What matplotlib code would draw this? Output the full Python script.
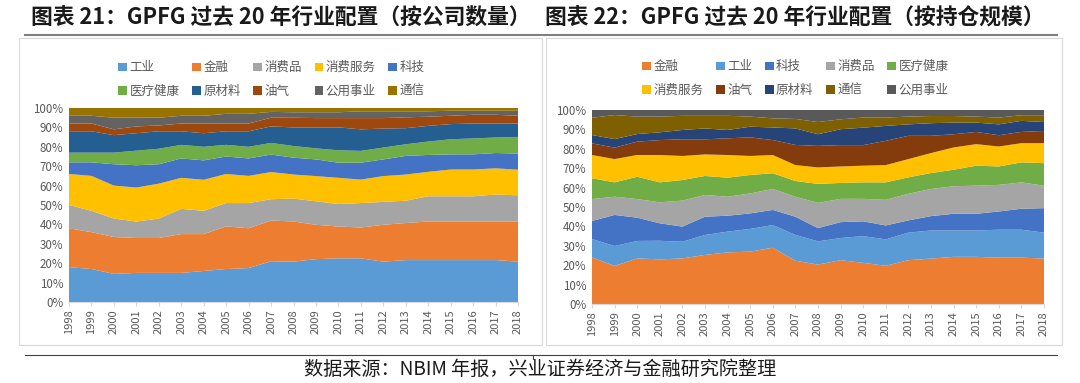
import numpy as np
import matplotlib
matplotlib.use('Agg')
import matplotlib.pyplot as plt
from matplotlib.patches import Rectangle
from matplotlib.lines import Line2D

plt.rcParams['font.family'] = ['Noto Sans CJK SC', 'DejaVu Sans']

years = list(range(1998, 2019))

# chart 21: share by number of companies (%), bottom to top
left_labels = ['工业', '金融', '消费品', '消费服务', '科技', '医疗健康', '原材料', '油气', '公用事业', '通信']
left_colors = ['#5B9BD5', '#ED7D31', '#A5A5A5', '#FFC000', '#4472C4', '#70AD47', '#255E91', '#9E480E', '#636363', '#997300']
gy_industry = [18, 17, 14.5, 15, 15, 15, 16, 17, 17.5, 21, 20.8, 22.1, 22.5, 22.5, 20.8, 21.6, 21.6, 21.6, 21.6, 21.6, 20.8]
gy_finance = [20, 19, 19, 18, 18, 20, 19, 22, 20.5, 21, 20.7, 17.7, 16.4, 15.9, 19, 19.1, 19.9, 19.9, 19.9, 19.9, 20.7]
gy_goods = [12, 11, 9.5, 8.5, 10, 13, 12, 12, 13, 11, 11.8, 12.1, 11.6, 12.6, 11.8, 11.5, 13, 13, 13, 13.9, 13.5]
gy_services = [16, 18, 17, 17.5, 18, 16, 16, 15, 14, 14, 12.4, 13, 13.5, 12.1, 13.3, 13.5, 12.6, 13.8, 13.8, 13.5, 13.2]
gy_tech = [6, 7, 11, 11.5, 10, 10, 10, 9, 9, 9, 8.7, 8.6, 7.8, 8.7, 8.6, 9.6, 8.7, 7.8, 7.8, 7.9, 8.3]
gy_health = [5, 5, 6, 7.5, 8, 7, 7, 6, 6, 6, 6, 5.7, 6.4, 6.1, 6.1, 6, 6.9, 7.8, 8.2, 8, 8.6]
gy_materials = [11, 11, 9, 9, 9, 7, 7, 7, 8, 8.5, 9.6, 10.8, 11.8, 11.1, 9.8, 8.3, 8.1, 7.8, 7.7, 7.2, 6.9]
gy_oil = [4, 4, 3, 3.5, 3, 4, 5, 4, 4, 4.5, 5, 4.8, 4.8, 5.8, 5.4, 5.6, 4.7, 4.3, 4.5, 4.5, 4]
gy_utilities = [4, 4, 6, 4.5, 4, 4, 4, 5, 5, 3, 2.8, 3, 3, 3.5, 3.5, 3.1, 2.8, 2.6, 2.1, 2.1, 2.6]
gy_telecom = [4, 4, 5, 5, 5, 4, 4, 3, 3, 2, 2.2, 2.2, 2.2, 1.7, 1.7, 1.7, 1.7, 1.4, 1.4, 1.4, 1.4]

# chart 22: share by holding size (%), bottom to top
right_labels = ['金融', '工业', '科技', '消费品', '医疗健康', '消费服务', '油气', '原材料', '通信', '公用事业']
right_colors = ['#ED7D31', '#5B9BD5', '#4472C4', '#A5A5A5', '#70AD47', '#FFC000', '#843C0C', '#264478', '#7F6000', '#595959']
hv_finance = [24, 19.6, 23.5, 23, 23.5, 25.3, 26.6, 27, 29, 22.3, 20.3, 22.6, 21.2, 19.7, 22.6, 23.4, 24.3, 24.3, 23.9, 23.9, 23.4]
hv_industry = [9.5, 10.3, 9, 9.6, 8.6, 10.3, 10.7, 11.7, 11.7, 13.3, 12, 11.4, 13.8, 13.6, 14.2, 14.5, 13.6, 13.6, 14.4, 14.4, 13.4]
hv_tech = [9.3, 16, 12, 9, 7.8, 9.4, 8.2, 8, 7.8, 9.4, 6.8, 8.2, 7.6, 7.2, 6.3, 7.4, 8.6, 8.6, 9.4, 10.8, 12.6]
hv_goods = [11.3, 9.4, 9.6, 10.8, 13.4, 11.2, 9.8, 10.3, 10.8, 10.3, 13, 12, 11.6, 13.2, 13.7, 14, 14.2, 14.5, 13.7, 13.6, 11.6]
hv_health = [10.7, 7.4, 11.5, 10.3, 10.6, 9.8, 9.8, 9.5, 8.1, 8.1, 9.8, 8.2, 8.5, 9, 8.5, 8.2, 8.5, 10.3, 9.5, 10.3, 11.6]
hv_services = [12, 12, 11.2, 14.1, 12.4, 11.1, 11.7, 9.8, 9.4, 8.2, 8.5, 8.5, 8.6, 8.9, 9.4, 10.3, 11.5, 11.1, 10.3, 9.9, 10.3]
hv_oil = [6, 5.9, 6.9, 7.7, 8.6, 7.8, 8.6, 9.6, 7.7, 10.4, 11.1, 11, 10.6, 12.5, 12, 8.9, 6.8, 6.3, 5.8, 5.8, 6.3]
hv_materials = [4.3, 4.4, 3.9, 4, 4.8, 5.6, 4.3, 5.5, 6.5, 8.5, 6, 8.2, 9, 7.7, 5.9, 6.5, 6, 4.8, 5.6, 5.7, 4.6]
hv_telecom = [8.9, 12.4, 9, 8.1, 7.3, 6.5, 7.3, 5.2, 4.7, 4.9, 6.3, 5.1, 5.2, 4.3, 4, 3.7, 3.4, 3.1, 3.5, 2.9, 3.5]
hv_utilities = [4, 2.6, 3.4, 3.4, 3, 3, 3, 3.4, 4.3, 4.6, 6.2, 4.8, 3.9, 3.9, 3.4, 3.1, 3.1, 3.4, 3.9, 2.7, 2.7]

left_series = [gy_industry, gy_finance, gy_goods, gy_services, gy_tech,
               gy_health, gy_materials, gy_oil, gy_utilities, gy_telecom]
right_series = [hv_finance, hv_industry, hv_tech, hv_goods, hv_health,
                hv_services, hv_oil, hv_materials, hv_telecom, hv_utilities]

fig = plt.figure(figsize=(10.8, 3.83), dpi=100)
W, H = 1080.0, 383.0


def fx(px):
    return px / W


def fy(py):
    return 1 - py / H


# panel frames
for x0, x1 in [(19, 542), (546, 1062)]:
    fig.patches.append(Rectangle((fx(x0), fy(345)), fx(x1 - x0), (345 - 38) / H,
                                 transform=fig.transFigure, fill=False,
                                 edgecolor='#D9D9D9', lw=0.8))

# header / footer lines
fig.add_artist(Line2D([fx(25), fx(1057)], [fy(34.5), fy(34.5)], color='#808080', lw=1.5))
fig.add_artist(Line2D([fx(25), fx(1057)], [fy(355), fy(355)], color='#404040', lw=0.8))
fig.add_artist(Line2D([fx(533), fx(533)], [fy(355), fy(359)], color='#404040', lw=0.8))

fig.text(fx(31), fy(18), '图表 21：GPFG 过去 20 年行业配置（按公司数量）',
         fontsize=15.7, fontweight='bold', va='center', ha='left', color='#1a1a1a')
fig.text(fx(545), fy(18), '图表 22：GPFG 过去 20 年行业配置（按持仓规模）',
         fontsize=15.7, fontweight='bold', va='center', ha='left', color='#1a1a1a')
fig.text(0.5, fy(369), '数据来源：NBIM 年报，兴业证券经济与金融研究院整理',
         fontsize=13.8, va='center', ha='center', color='#1a1a1a')

panels = [
    ([fx(69), fy(302), fx(518 - 69), (302 - 108) / H], left_series, left_labels, left_colors, 112, 55),
    ([fx(592), fy(304), fx(1044 - 592), (304 - 110) / H], right_series, right_labels, right_colors, 636, 54),
]

for rect, series, labels, colors, lx, ly in panels:
    ax = fig.add_axes(rect)
    polys = ax.stackplot(years, *series, labels=labels, colors=colors, lw=0)
    ax.set_xlim(1998, 2018)
    ax.set_ylim(0, 100)
    ax.set_xticks(years)
    ax.set_xticklabels([str(y) for y in years], rotation=90, fontsize=8, color='#595959')
    ax.set_yticks(range(0, 101, 10))
    ax.set_yticklabels(['%d%%' % v for v in range(0, 101, 10)], fontsize=8.3, color='#595959')
    for s in ['top', 'right', 'left']:
        ax.spines[s].set_visible(False)
    ax.spines['bottom'].set_color('#D9D9D9')
    ax.tick_params(axis='x', length=3, color='#D9D9D9', pad=2)
    ax.tick_params(axis='y', length=0, pad=4)

    order = [0, 5, 1, 6, 2, 7, 3, 8, 4, 9]
    fig.legend([polys[i] for i in order], [labels[i] for i in order], ncol=5,
               loc='upper left', bbox_to_anchor=(fx(lx), fy(ly)),
               frameon=False, fontsize=9, handlelength=0.7, handleheight=0.7,
               handletextpad=0.2, columnspacing=1.0, labelspacing=0.84,
               borderpad=0, labelcolor='#595959')

fig.savefig('out.png', dpi=100)
